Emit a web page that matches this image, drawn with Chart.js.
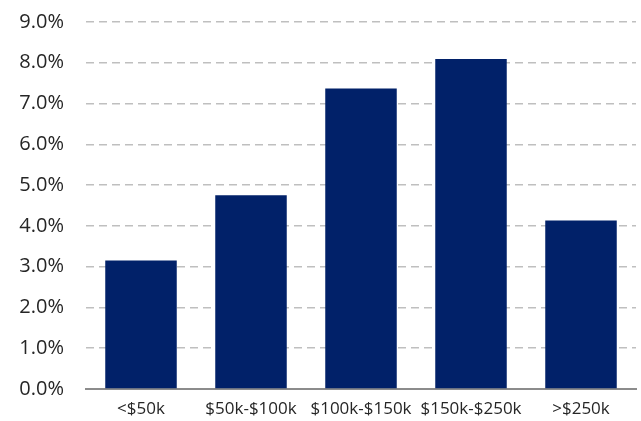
<!DOCTYPE html>
<html lang="en">
<head>
  <meta charset="UTF-8" />
  <title>Income bands</title>
  <script src="https://cdn.jsdelivr.net/npm/chart.js"></script>
  <style>
    html, body {
      margin: 0;
      padding: 0;
      background: #fff;
    }
    #wrap {
      width: 641px;
      height: 421px;
    }
  </style>
</head>
<body>
  <div id="wrap">
    <canvas id="barChart"></canvas>
  </div>

  <script>
    const categories = ["<$50k", "$50k-$100k", "$100k-$150k", "$150k-$250k", ">$250k"];
    const shares = [3.15, 4.75, 7.37, 8.09, 4.13];
    const yTicks = [0, 1, 2, 3, 4, 5, 6, 7, 8, 9];

    const ctx = document.getElementById("barChart").getContext("2d");
    const chart = new Chart(ctx, {
      type: "bar",
      data: {
        labels: categories,
        datasets: [{
          data: shares,
          backgroundColor: "#012169",
          barPercentage: 0.65,
          categoryPercentage: 1.0
        }]
      },
      options: {
        responsive: true,
        maintainAspectRatio: false,
        animation: false,
        layout: {
          padding: { top: 22, right: 5, left: 0, bottom: 0 }
        },
        plugins: {
          legend: { display: false },
          tooltip: { enabled: false }
        },
        scales: {
          x: {
            grid: { display: false, drawTicks: false },
            border: { color: "#8c8c8c", width: 2 },
            ticks: {
              color: "#262626",
              padding: 10,
              maxRotation: 0,
              autoSkip: false,
              font: { family: "'Open Sans'", size: 17 }
            },
            afterFit: s => { s.height = 32; s.paddingLeft = 0; s.paddingRight = 0; }
          },
          y: {
            min: 0,
            max: 9,
            afterBuildTicks: s => { s.ticks = yTicks.map(v => ({ value: v })); },
            grid: {
              color: ctx => ctx.tick && ctx.tick.value === 0 ? "rgba(0,0,0,0)" : "#bfbfbf",
              lineWidth: 1.5,
              drawTicks: false
            },
            border: { display: false, dash: [8, 5] },
            ticks: {
              color: "#262626",
              padding: 22,
              font: { family: "'Open Sans'", size: 20 },
              callback: v => v.toFixed(1) + "%"
            },
            afterFit: s => { s.width = 86; s.paddingTop = 0; s.paddingBottom = 0; }
          }
        }
      }
    });
  </script>
</body>
</html>
